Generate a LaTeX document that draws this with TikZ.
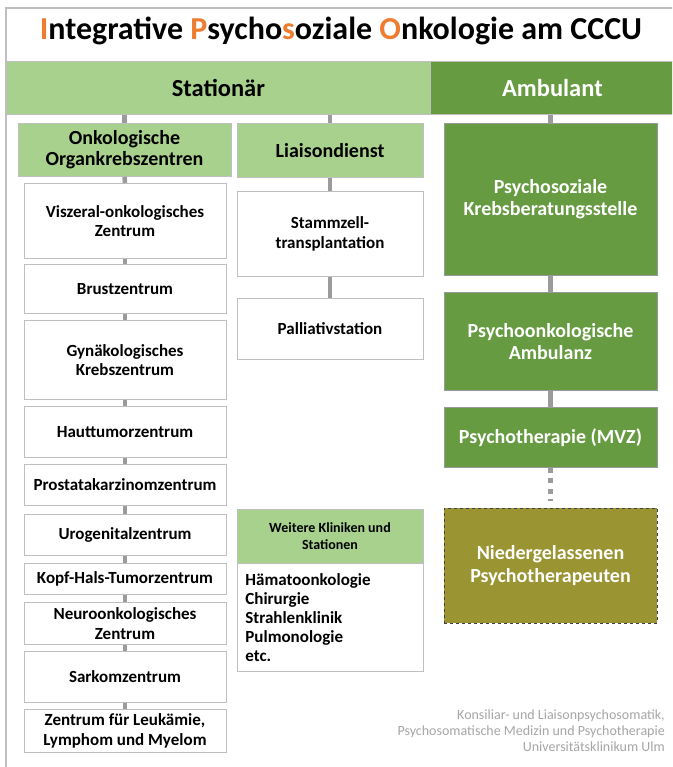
\documentclass[tikz,border=0pt]{standalone}
\usepackage{fontspec}
\setmainfont{Carlito}

\definecolor{lightgreen}{HTML}{A9D18E}
\definecolor{darkgreen}{HTML}{669B41}
\definecolor{olivegreen}{HTML}{9A9432}
\definecolor{titleorange}{HTML}{ED7D31}
\definecolor{linegray}{HTML}{9B9B9B}
\definecolor{boxgray}{HTML}{BFBFBF}
\definecolor{footgray}{HTML}{A6A6A6}

\tikzset{
  frame/.style={draw=boxgray, line width=1.2pt},
  wbox/.style={draw=boxgray, fill=white, line width=0.8pt, inner sep=2pt, anchor=north,
    align=center, font=\bfseries\fontsize{17}{19.5}\selectfont},
  gbox/.style={wbox, fill=lightgreen, font=\bfseries\fontsize{20}{21}\selectfont},
  dbox/.style={wbox, draw=gray!80, fill=darkgreen, text=white,
    font=\bfseries\fontsize{20}{22}\selectfont},
  hbar/.style={draw=boxgray, line width=0.8pt, anchor=north west, minimum height=53,
    font=\bfseries\fontsize{24.5}{28}\selectfont},
  link/.style={linegray, line width=4.5pt},
  foot/.style={text=footgray, align=right, inner sep=0pt,
    font=\fontsize{14}{16}\selectfont},
}

\begin{document}
\begin{tikzpicture}[x=1pt, y=-1pt]

    % --- Page ---
    \useasboundingbox (0,0) rectangle (672,767);
    \clip (0,0) rectangle (672,767);
    \fill[white] (0,0) rectangle (672,767);
    \draw[frame] (6,8) rectangle (700,800);

    % --- Title ---
    \node[font=\bfseries\fontsize{32}{36}\selectfont] (title) at (341,31)
      {\textcolor{titleorange}{I}ntegrative \textcolor{titleorange}{P}sycho\textcolor{titleorange}{s}oziale \textcolor{titleorange}{O}nkologie am CCCU};

    % --- Header bars ---
    \node[hbar, fill=lightgreen, minimum width=424] (stat) at (6,61) {Stationär};
    \node[hbar, fill=darkgreen, text=white, minimum width=244] (amb) at (430,61) {Ambulant};

    % --- Left column: Organkrebszentren ---
    \node[gbox, minimum width=213, minimum height=53] (onk) at (124.5,123) {Onkologische\\Organkrebszentren};
    \node[wbox, minimum width=202, minimum height=75] (viszeral) at (125,183) {Viszeral-onkologisches\\Zentrum};
    \node[wbox, minimum width=202, minimum height=49] (brust) at (125,264) {Brustzentrum};
    \node[wbox, minimum width=202, minimum height=79] (gyn) at (125,320) {Gynäkologisches\\Krebszentrum};
    \node[wbox, minimum width=202, minimum height=51] (haut) at (125,406) {Hauttumorzentrum};
    \node[wbox, minimum width=202, minimum height=41] (prostata) at (125,464) {Prostatakarzinomzentrum};
    \node[wbox, minimum width=202, minimum height=41] (uro) at (125,514) {Urogenitalzentrum};
    \node[wbox, minimum width=202, minimum height=31] (kopf) at (125,563) {Kopf-Hals-Tumorzentrum};
    \node[wbox, minimum width=202, minimum height=42] (neuro) at (125,602) {Neuroonkologisches\\Zentrum};
    \node[wbox, minimum width=202, minimum height=51] (sarkom) at (125,651) {Sarkomzentrum};
    \node[wbox, minimum width=202, minimum height=43] (leuk) at (125,709) {Zentrum für Leukämie,\\Lymphom und Myelom};

    % --- Middle column: Liaisondienst ---
    \node[gbox, minimum width=186, minimum height=54] (liaison) at (330,123) {Liaisondienst};
    \node[wbox, minimum width=186, minimum height=85] (stamm) at (330,191) {Stammzell-\\transplantation};
    \node[wbox, minimum width=186, minimum height=61] (palliativ) at (330,298) {Palliativstation};
    \node[gbox, font=\bfseries\fontsize{14}{17}\selectfont, minimum width=186, minimum height=54] (weitere) at (330,509) {Weitere Kliniken und\\Stationen};
    \node[wbox, anchor=north west, align=left, text width=170, minimum width=186, minimum height=108,
      font=\bfseries\fontsize{17}{19}\selectfont] (liste) at (237,563)
      {Hämatoonkologie\\Chirurgie\\Strahlenklinik\\Pulmonologie\\etc.};

    % --- Right column: Ambulant ---
    \node[dbox, minimum width=213, minimum height=152] (beratung) at (550.5,123) {Psychosoziale\\Krebsberatungsstelle};
    \node[dbox, minimum width=213, minimum height=98] (ambulanz) at (550.5,292) {Psychoonkologische\\Ambulanz};
    \node[dbox, minimum width=213, minimum height=60] (mvz) at (550.5,407) {Psychotherapie (MVZ)};
    \node[dbox, fill=olivegreen, draw=darkgray, dashed, minimum width=213, minimum height=115,
      font=\bfseries\fontsize{20}{23}\selectfont] (nieder) at (550.5,508) {Niedergelassenen\\Psychotherapeuten};

    % --- Connectors ---
    \draw[link] (stat.south -| onk.north) -- (onk.north);
    \draw[link] (onk.south) -- (viszeral.north);
    \draw[link] (viszeral.south) -- (brust.north);
    \draw[link] (brust.south) -- (gyn.north);
    \draw[link] (gyn.south) -- (haut.north);
    \draw[link] (haut.south) -- (prostata.north);
    \draw[link] (prostata.south) -- (uro.north);
    \draw[link] (uro.south) -- (kopf.north);
    \draw[link] (kopf.south) -- (neuro.north);
    \draw[link] (neuro.south) -- (sarkom.north);
    \draw[link] (sarkom.south) -- (leuk.north);

    \draw[link] (stat.south -| liaison.north) -- (liaison.north);
    \draw[link] (liaison.south) -- (stamm.north);
    \draw[link] (stamm.south) -- (palliativ.north);

    \draw[link] (amb.south -| beratung.north) -- (beratung.north);
    \draw[link] (beratung.south) -- (ambulanz.north);
    \draw[link] (ambulanz.south) -- (mvz.north);
    \draw[link, dash pattern=on 5pt off 5.5pt, shorten >=7pt] (mvz.south) -- (nieder.north);

    % --- Footer ---
    \node[foot, anchor=north east] (footer) at (665,710)
      {Konsiliar- und Liaisonpsychosomatik,\\Psychosomatische Medizin und Psychotherapie\\Universitätsklinikum Ulm};

\end{tikzpicture}
\end{document}
